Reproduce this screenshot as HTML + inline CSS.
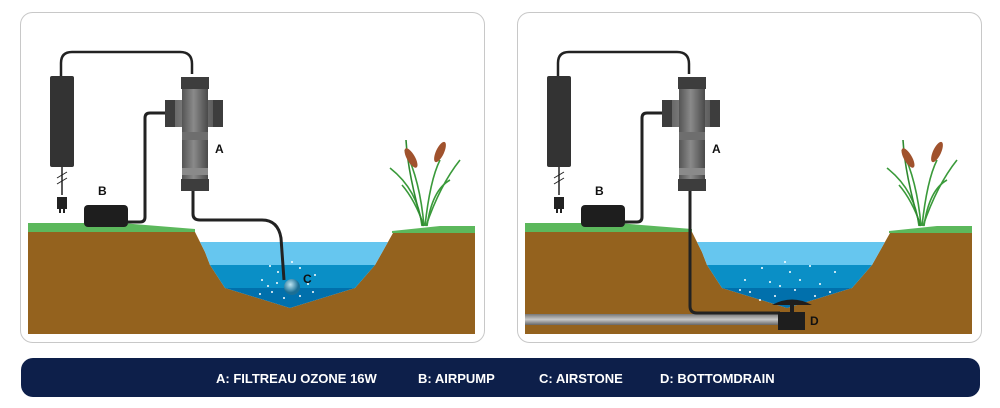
<!DOCTYPE html>
<html><head><meta charset="utf-8"><style>
html,body{margin:0;padding:0;background:#fff;width:1000px;height:408px;overflow:hidden}
svg{display:block}
text{font-family:"Liberation Sans",sans-serif;font-weight:bold}
</style></head><body>
<svg width="1000" height="408" viewBox="0 0 1000 408">
<defs>
<linearGradient id="ug" x1="0" x2="1"><stop offset="0" stop-color="#555"/><stop offset=".45" stop-color="#8a8a8a"/><stop offset="1" stop-color="#4a4a4a"/></linearGradient>
<linearGradient id="pg" x1="0" y1="0" x2="0" y2="1"><stop offset="0" stop-color="#777"/><stop offset=".5" stop-color="#c8c8c8"/><stop offset="1" stop-color="#666"/></linearGradient>
<radialGradient id="bg" cx=".4" cy=".35"><stop offset="0" stop-color="#bfe6f2"/><stop offset="1" stop-color="#1b6f95"/></radialGradient>
<clipPath id="dip"><path d="M175 232 L185 252 L190 265 L205 288 L270 308 L335 288 L355 265 L373 233Z"/></clipPath>
<g id="common">
  <!-- ground -->
  <path d="M8 223 L100 223 L175 229 L175 232 L8 232Z" fill="#5cb85c"/>
  <path d="M372 231 L420 226 L455 226 L455 233 L372 233Z" fill="#5cb85c"/>
  <path d="M8 232 L175 232 L185 252 L190 265 L205 288 L270 308 L335 288 L355 265 L373 233 L455 233 L455 334 L8 334Z" fill="#94621e"/>
  <g clip-path="url(#dip)">
    <rect x="170" y="242" width="210" height="23" fill="#66c6ef"/>
    <rect x="170" y="265" width="210" height="23" fill="#0a8fc6"/>
    <rect x="170" y="288" width="210" height="25" fill="#0170ac"/>
  </g>
  <!-- transformer -->
  <rect x="30" y="76" width="24" height="91" rx="2" fill="#333"/>
  <path d="M42 167 V195" stroke="#222" stroke-width="1.5"/>
  <path d="M37 178 l10 -6 M37 184 l10 -6" stroke="#222" stroke-width="1"/>
  <path d="M38 198 h8 v10 h-8z M40 208 v5 M44 208 v5" stroke="#222" stroke-width="2" fill="#222"/>
  <path d="M41 76 V63 Q41 52 52 52 H160 Q172 52 172 64 V74" fill="none" stroke="#222" stroke-width="2.5"/>
  <!-- pump -->
  <rect x="64" y="205" width="44" height="22" rx="4" fill="#1e1e1e"/>
  <path d="M108 222 H120 Q125 222 125 217 V118 Q125 113 130 113 H148" fill="none" stroke="#222" stroke-width="3"/>
  <!-- unit A -->
  <rect x="145" y="100" width="58" height="27" fill="url(#ug)"/>
  <rect x="145" y="100" width="10" height="27" fill="#3d3d3d"/>
  <rect x="193" y="100" width="10" height="27" fill="#3d3d3d"/>
  <rect x="162" y="77" width="26" height="113" fill="url(#ug)"/>
  <rect x="161" y="77" width="28" height="12" fill="#3d3d3d"/>
  <rect x="162" y="132" width="26" height="8" fill="#6e6e6e"/>
  <rect x="162" y="168" width="26" height="7" fill="#8a8a8a"/>
  <rect x="161" y="179" width="28" height="12" fill="#3d3d3d"/>
  <text x="195" y="153" font-size="12" fill="#111">A</text>
  <text x="78" y="195" font-size="12" fill="#111">B</text>
  <!-- reeds -->
  <g fill="none" stroke="#3a9a3a" stroke-width="1.6">
    <path d="M402 226 Q398 190 370 168"/><path d="M404 226 Q400 180 385 150"/>
    <path d="M405 226 Q410 180 420 160"/><path d="M406 226 Q420 185 440 160"/>
    <path d="M404 226 Q395 200 382 185"/><path d="M407 226 Q412 190 430 180"/>
    <path d="M403 226 Q388 175 386 140" stroke="#2f8a30"/>
  </g>
  <ellipse cx="391" cy="158" rx="4" ry="11" transform="rotate(-30 391 158)" fill="#a0522d"/>
  <ellipse cx="420" cy="152" rx="4" ry="11" transform="rotate(25 420 152)" fill="#a0522d"/>
</g>
</defs>
<!-- panels -->
<rect x="20.5" y="12.5" width="464" height="330" rx="12" fill="#fff" stroke="#c8c8c8"/>
<rect x="517.5" y="12.5" width="464" height="330" rx="12" fill="#fff" stroke="#c8c8c8"/>
<use href="#common" transform="translate(20,0)"/>
<use href="#common" transform="translate(517,0)"/>
<!-- left: airstone -->
<path d="M193 191 V214 Q193 220 200 220 H262 Q278 220 281 238 L284 280" fill="none" stroke="#222" stroke-width="3"/>
<g fill="#fff">
<circle cx="270" cy="266" r="1"/><circle cx="278" cy="272" r="1"/><circle cx="262" cy="280" r="1"/><circle cx="300" cy="268" r="1"/><circle cx="308" cy="284" r="1"/><circle cx="272" cy="292" r="1"/><circle cx="284" cy="298" r="1"/><circle cx="300" cy="296" r="1"/><circle cx="268" cy="286" r="1"/><circle cx="315" cy="275" r="1"/><circle cx="313" cy="292" r="1"/><circle cx="260" cy="294" r="1"/><circle cx="292" cy="262" r="1"/><circle cx="277" cy="283" r="1"/>
</g>
<circle cx="292" cy="287" r="8" fill="url(#bg)"/>
<text x="303" y="283" font-size="12" fill="#111">C</text>
<!-- right: bottomdrain -->
<rect x="525" y="314" width="255" height="11" fill="url(#pg)"/>
<path d="M690 191 V306 Q690 313 697 313 H780" fill="none" stroke="#222" stroke-width="3"/>
<g fill="#fff">
<circle cx="762" cy="268" r="1"/><circle cx="790" cy="272" r="1"/><circle cx="745" cy="280" r="1"/><circle cx="770" cy="282" r="1"/><circle cx="800" cy="280" r="1"/><circle cx="820" cy="284" r="1"/><circle cx="750" cy="292" r="1"/><circle cx="775" cy="296" r="1"/><circle cx="795" cy="290" r="1"/><circle cx="815" cy="296" r="1"/><circle cx="760" cy="300" r="1"/><circle cx="805" cy="304" r="1"/><circle cx="740" cy="290" r="1"/><circle cx="830" cy="292" r="1"/><circle cx="785" cy="262" r="1"/><circle cx="810" cy="266" r="1"/><circle cx="835" cy="272" r="1"/><circle cx="780" cy="286" r="1"/>
</g>
<path d="M772 305 Q792 294 812 305Z" fill="#1e1e1e"/>
<rect x="790" y="304" width="4" height="9" fill="#1e1e1e"/>
<rect x="778" y="312" width="27" height="18" fill="#1e1e1e"/>
<text x="810" y="325" font-size="12" fill="#111">D</text>
<!-- banner -->
<rect x="21" y="358" width="959" height="39" rx="12" fill="#0d1f4a"/>
<g fill="#fff" font-size="13" style="font-family:'Liberation Sans Narrow','Liberation Sans',sans-serif">
<text x="216" y="383">A: FILTREAU OZONE 16W</text>
<text x="418" y="383">B: AIRPUMP</text>
<text x="539" y="383">C: AIRSTONE</text>
<text x="660" y="383">D: BOTTOMDRAIN</text>
</g>
</svg>
</body></html>
